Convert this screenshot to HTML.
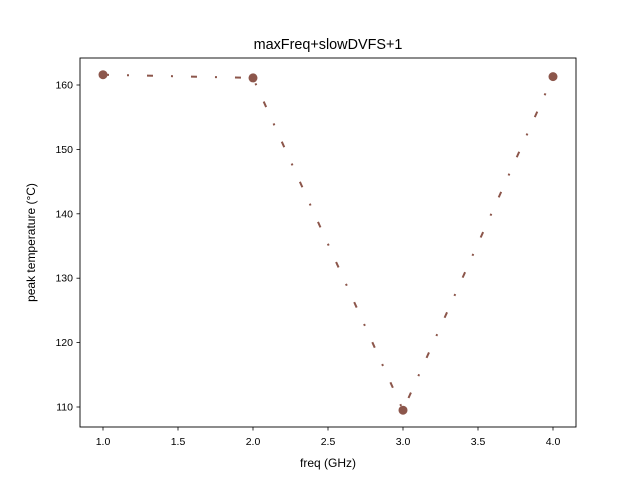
<!DOCTYPE html>
<html><head><meta charset="utf-8"><style>body{margin:0;background:#fff}svg{display:block;font-family:"Liberation Sans","DejaVu Sans",sans-serif}</style></head>
<body>
<svg id="chart" width="640" height="480">
<rect width="640" height="480" fill="#fff"/>
<text x="328" y="49" text-anchor="middle" font-size="14.4">maxFreq+slowDVFS+1</text>
<g id="axes"></g>
<rect x="80" y="58" width="496" height="369" fill="none" stroke="#000" stroke-width="0.9"/>
<text x="328" y="467" text-anchor="middle" font-size="12">freq (GHz)</text>
<text transform="translate(35,242.5) rotate(-90)" text-anchor="middle" font-size="12">peak temperature (°C)</text>
</svg>
<script>
const freqs=[1,2,3,4];
const temps=[161.6,161.1,109.5,161.3];
const xTicks=[1.0,1.5,2.0,2.5,3.0,3.5,4.0];
const yTicks=[110,120,130,140,150,160];
const ns="http://www.w3.org/2000/svg";
const g=document.getElementById('axes');
const sx=v=>103+(v-1)*150;
const sy=v=>407-(v-110)*6.44;
function mk(t,a){const e=document.createElementNS(ns,t);for(const k in a)e.setAttribute(k,a[k]);g.appendChild(e);return e;}
xTicks.forEach(v=>{
 const l=mk('line',{x1:sx(v),x2:sx(v),y1:427,y2:430.5,stroke:'#000','stroke-width':0.8});
 
 
 const t=mk('text',{x:sx(v),y:445,'text-anchor':'middle','font-size':10.5});
 t.textContent=v.toFixed(1);
 
 
});
yTicks.forEach(v=>{
 const l=mk('line',{x1:76.5,x2:80,y1:sy(v),y2:sy(v),stroke:'#000','stroke-width':0.8});
 
 
 const t=mk('text',{x:73,y:sy(v)+3.5,'text-anchor':'end','font-size':10.5});
 t.textContent=v;
 
 
});
const d=freqs.map((f,i)=>(i?'L':'M')+sx(f)+','+sy(temps[i])).join(' ');
const p=mk('path',{d:d,fill:'none',stroke:'#8c564b','stroke-width':2,'stroke-dasharray':'6,18,2,18'});


freqs.forEach((f,i)=>{
 const c=mk('circle',{cx:sx(f),cy:sy(temps[i]),r:4.5,fill:'#8c564b'});
 
 
});
</script>
</body></html>
